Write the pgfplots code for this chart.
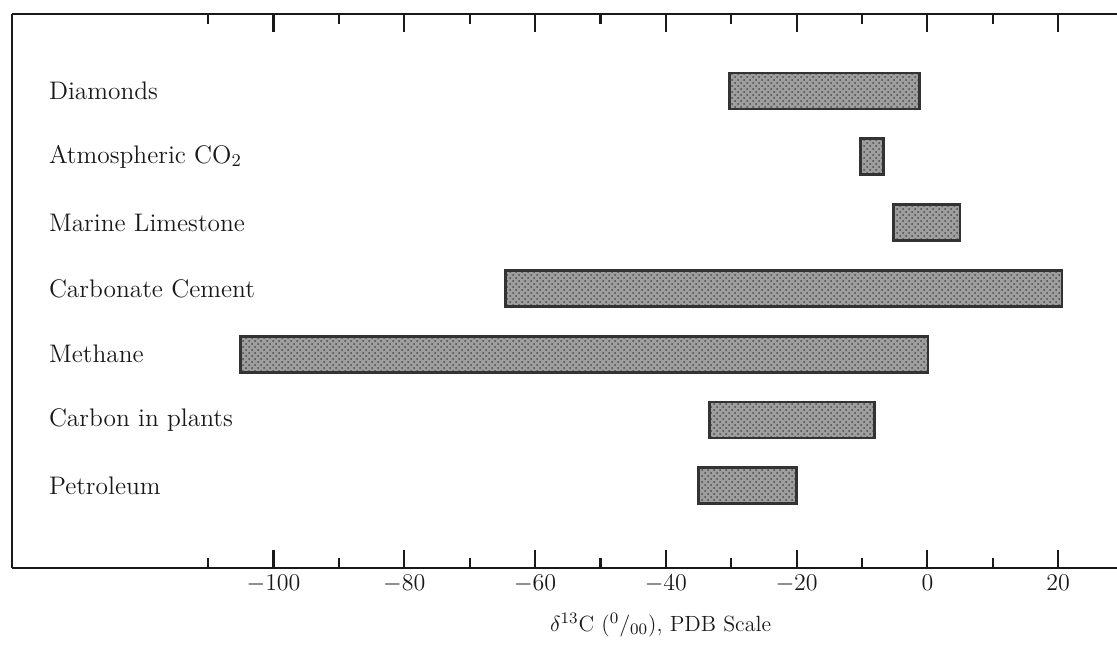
\documentclass[border=0pt]{standalone}
\usepackage{pgfplots}
\pgfplotsset{compat=1.18}
\usetikzlibrary{patterns}

\pgfplotsset{rangebar/.style={draw=black!80, line width=1.4pt, fill=black!38,
    postaction={pattern=crosshatch dots, pattern color=black!70}}}

\begin{document}
\begin{tikzpicture}
\useasboundingbox (-6pt,-38pt) rectangle (552.5pt,284pt);
\begin{axis}[
    at={(0,0)}, anchor=south west,
    scale only axis,
    width=552.5pt, height=277pt,
    xmin=-140, xmax=29,
    ymin=-0.25, ymax=8.17,
    axis x line*=box, axis y line*=left,
    axis line style={line width=1.3pt, black!90},
    xtick={-100,-80,...,20},
    minor xtick={-110,-90,...,10},
    ytick=\empty,
    tick align=inside,
    xtick pos=both,
    major tick length=9pt, minor tick length=5pt,
    tick style={line width=1.1pt, black!90},
    ticklabel style={font=\fontsize{12.8}{15}\selectfont, text=black!90},
    xticklabel pos=bottom,
    clip=false,
]
% Diamonds
\addplot[rangebar] coordinates {(-30.3,6.726) (-1.2,6.726) (-1.2,7.274) (-30.3,7.274)} --cycle;
% Atmospheric CO2
\addplot[rangebar] coordinates {(-10.2,5.726) (-6.7,5.726) (-6.7,6.274) (-10.2,6.274)} --cycle;
% Marine Limestone
\addplot[rangebar] coordinates {(-5.2,4.726) (5.0,4.726) (5.0,5.274) (-5.2,5.274)} --cycle;
% Carbonate Cement
\addplot[rangebar] coordinates {(-64.5,3.726) (20.6,3.726) (20.6,4.274) (-64.5,4.274)} --cycle;
% Methane
\addplot[rangebar] coordinates {(-105.0,2.726) (0.1,2.726) (0.1,3.274) (-105.0,3.274)} --cycle;
% Carbon in plants
\addplot[rangebar] coordinates {(-33.3,1.726) (-8.1,1.726) (-8.1,2.274) (-33.3,2.274)} --cycle;
% Petroleum
\addplot[rangebar] coordinates {(-35.0,0.726) (-20.0,0.726) (-20.0,1.274) (-35.0,1.274)} --cycle;

\tikzset{rowlab/.style={anchor=west, inner sep=0pt, text=black!90, font=\fontsize{12.7}{14}\selectfont}}
\node[rowlab] at (axis cs:-134.4,7) {Diamonds};
\node[rowlab] at (axis cs:-134.4,6) {Atmospheric CO$_2$};
\node[rowlab] at (axis cs:-134.4,5) {Marine Limestone};
\node[rowlab] at (axis cs:-134.4,4) {Carbonate Cement};
\node[rowlab] at (axis cs:-134.4,3) {Methane};
\node[rowlab] at (axis cs:-134.4,2) {Carbon in plants};
\node[rowlab] at (axis cs:-134.4,1) {Petroleum};

\node[font=\fontsize{11}{13}\selectfont, text=black!90, yshift=-28.5pt] at (axis cs:-40.8,-0.25)
    {$\delta^{13}$C ($^{0}/_{00}$), PDB Scale};
\end{axis}
\end{tikzpicture}
\end{document}
